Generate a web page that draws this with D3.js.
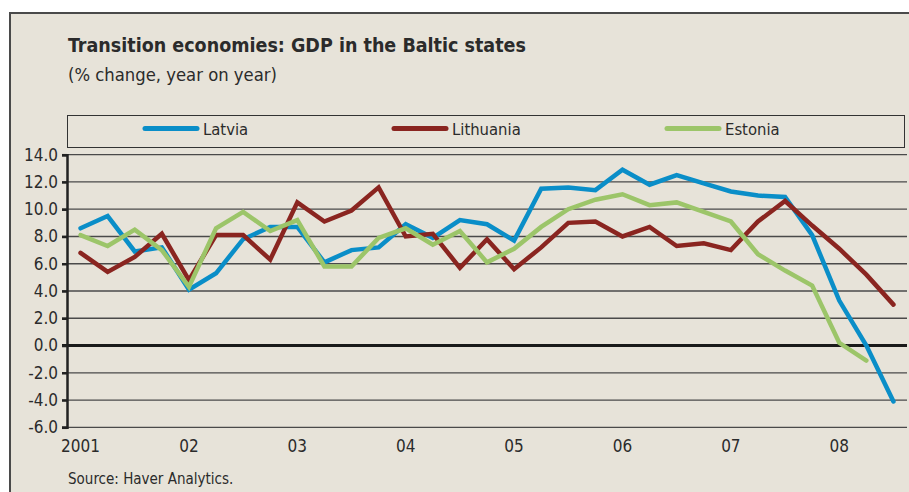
<!DOCTYPE html>
<html>
<head>
<meta charset="utf-8">
<script src="https://cdn.jsdelivr.net/npm/d3@7"></script>
<style>
  body { margin: 0; background: #fff; }
  text { font-family: "DejaVu Sans Condensed", "Liberation Sans Narrow", sans-serif; fill: #2b2b2b; }
</style>
</head>
<body>
<div id="viz"></div>
<script>
let width = 909, height = 492;

// quarterly points, 2001 Q1 onwards
let years = ['2001', '02', '03', '04', '05', '06', '07', '08'];
let yTicks = [14, 12, 10, 8, 6, 4, 2, 0, -2, -4, -6];
let latvia = [8.6, 9.5, 6.9, 7.2, 4.1, 5.3, 7.8, 8.7, 8.7, 6.1, 7.0, 7.2, 8.9, 7.9, 9.2, 8.9,
    7.7, 11.5, 11.6, 11.4, 12.9, 11.8, 12.5, 11.9, 11.3, 11.0, 10.9, 8.1, 3.3, 0.0, -4.1];
let lithuania = [6.8, 5.4, 6.5, 8.2, 4.8, 8.1, 8.1, 6.3, 10.5, 9.1, 9.9, 11.6, 8.0, 8.2, 5.7, 7.8,
    5.6, 7.2, 9.0, 9.1, 8.0, 8.7, 7.3, 7.5, 7.0, 9.1, 10.6, 8.8, 7.1, 5.2, 3.0];
let estonia = [8.1, 7.3, 8.5, 7.0, 4.3, 8.6, 9.8, 8.4, 9.2, 5.8, 5.8, 7.9, 8.6, 7.4, 8.4, 6.1,
    7.1, 8.7, 10.0, 10.7, 11.1, 10.3, 10.5, 9.8, 9.1, 6.7, 5.5, 4.4, 0.2, -1.1];
let seriesNames = ['Latvia', 'Lithuania', 'Estonia'];
let colors = ['#0a8ec8', '#8a2520', '#9cc569'];

let series = [latvia, lithuania, estonia];

let svg = d3.select('#viz').append('svg')
    .attr('width', width)
    .attr('height', height);

// background panel with frame
svg.append('rect')
    .attr('x', 10).attr('y', 13)
    .attr('width', width + 10).attr('height', height)
    .attr('fill', '#e7e3d9')
    .attr('stroke', '#4a4a4a')
    .attr('stroke-width', 2);

svg.append('text')
    .attr('x', 68).attr('y', 52)
    .style('font-size', '19.5px')
    .style('font-weight', 'bold')
    .text('Transition economies: GDP in the Baltic states');

svg.append('text')
    .attr('x', 68).attr('y', 81)
    .style('font-size', '18.3px')
    .text('(% change, year on year)');

let x = d3.scaleLinear().domain([-0.5, 30.5]).range([67, 907]);
let y = d3.scaleLinear().domain([-6, 14]).range([427.3, 154.7]);

// legend
let legend = svg.append('g');
legend.append('rect')
    .attr('x', 67.5).attr('y', 115.5)
    .attr('width', 837).attr('height', 32)
    .attr('fill', 'none')
    .attr('stroke', '#333')
    .attr('stroke-width', 1);
let legendX = [145, 394, 667];
seriesNames.forEach((name, i) => {
    legend.append('line')
        .attr('x1', legendX[i]).attr('x2', legendX[i] + 52)
        .attr('y1', 128.5).attr('y2', 128.5)
        .attr('stroke', colors[i])
        .attr('stroke-width', 5)
        .attr('stroke-linecap', 'round');
    legend.append('text')
        .attr('x', legendX[i] + 58).attr('y', 135)
        .style('font-size', '16.5px')
        .text(name);
});

// gridlines
svg.append('g')
    .selectAll('line')
    .data(yTicks)
    .enter()
    .append('line')
    .attr('x1', 62).attr('x2', 907)
    .attr('y1', d => y(d)).attr('y2', d => y(d))
    .attr('stroke', d => d === 0 ? '#1a1a1a' : '#4a4a4a')
    .attr('stroke-width', d => d === 0 ? 3 : 1.3);

// y axis
let yAxis = d3.axisLeft(y)
    .tickValues(yTicks)
    .tickSize(5)
    .tickFormat(d3.format('.1f'));
let yg = svg.append('g')
    .attr('transform', 'translate(67,0)')
    .call(yAxis);
yg.select('.domain').attr('stroke', '#222').attr('stroke-width', 2.5);
yg.selectAll('.tick line').attr('stroke', '#222').attr('stroke-width', 2.5);
yg.selectAll('.tick text')
    .attr('x', -9)
    .style('font-size', '17px')
    .style('font-family', '"DejaVu Sans Condensed", sans-serif')
    .attr('fill', '#2b2b2b')
    .text(d => d3.format('.1f')(d).replace('−', '-'));

// x labels
svg.append('g')
    .selectAll('text')
    .data(years)
    .enter()
    .append('text')
    .attr('x', (d, i) => x(i * 4))
    .attr('y', 452)
    .attr('text-anchor', 'middle')
    .style('font-size', '17px')
    .text(d => d);

// lines
let line = d3.line()
    .x((d, i) => x(i))
    .y(d => y(d));

svg.append('g')
    .selectAll('path')
    .data(series)
    .enter()
    .append('path')
    .attr('d', line)
    .attr('fill', 'none')
    .attr('stroke', (d, i) => colors[i])
    .attr('stroke-width', 4.5)
    .attr('stroke-linejoin', 'miter')
    .attr('stroke-linecap', 'round');

svg.append('text')
    .attr('x', 68).attr('y', 484)
    .style('font-size', '15px')
    .text('Source: Haver Analytics.');
</script>
</body>
</html>
